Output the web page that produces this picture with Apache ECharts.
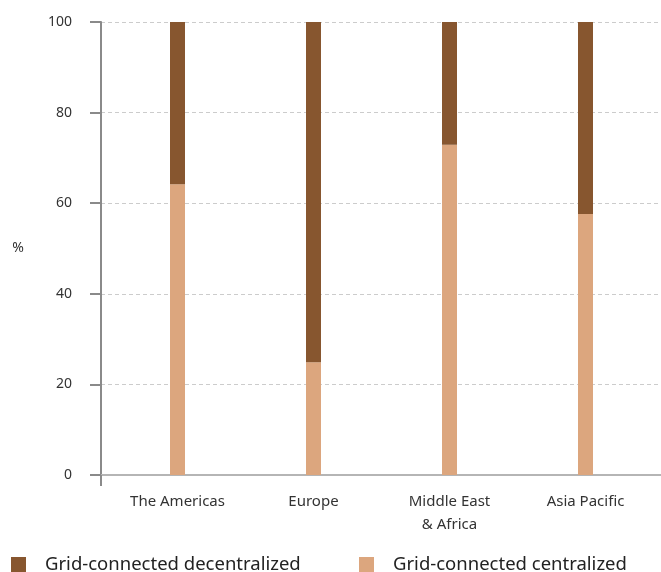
<!DOCTYPE html>
<html>
<head>
<meta charset="utf-8">
<script src="https://cdn.jsdelivr.net/npm/echarts@6/dist/echarts.min.js"></script>
<style>html,body{margin:0;padding:0;background:#fff}#c{width:661px;height:572px}</style>
</head>
<body>
<div id="c"></div>
<script>
var categories = ['The Americas', 'Europe', 'Middle East\n& Africa', 'Asia Pacific'];
var centralized = [64.2, 24.9, 72.9, 57.6];
var decentralized = [35.8, 75.1, 27.1, 42.4];
var yTicks = [0, 20, 40, 60, 80, 100];
var seriesNames = ['Grid-connected decentralized', 'Grid-connected centralized'];

var FONT = 'Noto Sans';
var chart = echarts.init(document.getElementById('c'), null, {renderer: 'canvas'});
chart.setOption({
  animation: false,
  textStyle: {fontFamily: FONT},
  color: ['#87562F', '#DCA67E'],
  legend: [
    {data: [seriesNames[0]], left: 6, top: 550, itemWidth: 15, itemHeight: 15, icon: 'rect',
     textStyle: {fontSize: 18.5, color: '#222', fontFamily: FONT, padding: [0, 0, 0, 14]}},
    {data: [seriesNames[1]], left: 354, top: 550, itemWidth: 15, itemHeight: 15, icon: 'rect',
     textStyle: {fontSize: 18.5, color: '#222', fontFamily: FONT, padding: [0, 0, 0, 14]}}
  ],
  grid: [
    {left: 109.5, right: 7.5, top: 22, bottom: 97},
    {left: 101, right: 0, top: 22, bottom: 97}
  ],
  xAxis: [
    {type: 'category', gridIndex: 0, data: categories,
     axisLine: {show: false}, axisTick: {show: false},
     axisLabel: {fontSize: 15, color: '#333', margin: 15, lineHeight: 23, fontFamily: FONT}},
    {type: 'value', gridIndex: 1, min: 0, max: 1,
     axisLine: {show: true, lineStyle: {color: '#b5b5b5', width: 2}},
     axisTick: {show: true, length: 11, customValues: [0], lineStyle: {color: '#8a8a8a', width: 2}},
     axisLabel: {show: false}, splitLine: {show: false}}
  ],
  yAxis: [
    {type: 'value', gridIndex: 0, min: 0, max: 100, show: false, splitLine: {show: false}},
    {type: 'value', gridIndex: 1, min: 0, max: 100, interval: 20,
     name: '%', nameLocation: 'middle', nameRotate: 0, nameGap: 77,
     nameTextStyle: {fontSize: 14, color: '#333', fontFamily: FONT},
     axisLine: {show: true, lineStyle: {color: '#8a8a8a', width: 2}},
     axisTick: {show: true, length: 11, lineStyle: {color: '#8a8a8a', width: 2}},
     axisLabel: {fontSize: 14, color: '#333', margin: 29, fontFamily: FONT,
                 customValues: yTicks},
     splitLine: {show: true, lineStyle: {color: '#cccccc', width: 1, type: [4, 3]}}}
  ],
  series: [
    {name: seriesNames[1], type: 'bar', stack: 'a', xAxisIndex: 0, yAxisIndex: 0,
     barWidth: 15, data: centralized, itemStyle: {color: '#DCA67E'}},
    {name: seriesNames[0], type: 'bar', stack: 'a', xAxisIndex: 0, yAxisIndex: 0,
     barWidth: 15, data: decentralized, itemStyle: {color: '#87562F'}}
  ]
});
</script>
</body>
</html>
